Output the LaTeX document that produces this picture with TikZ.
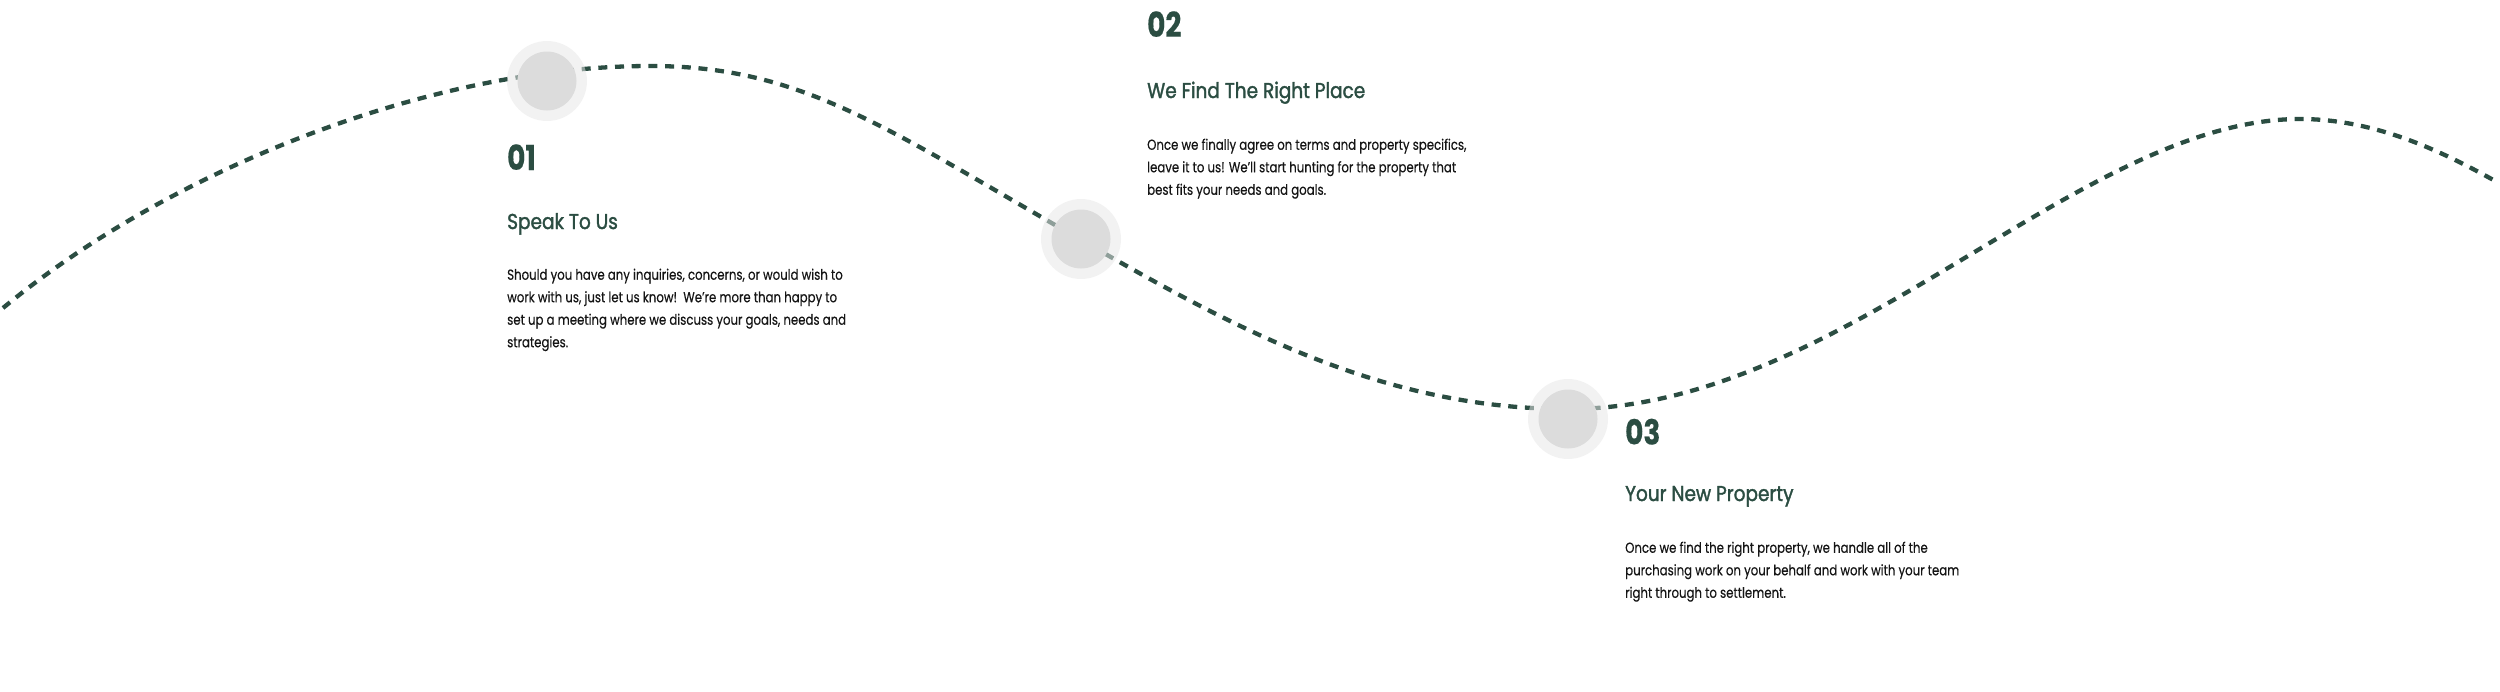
\documentclass[tikz,border=0pt]{standalone}
\usepackage{fontspec}
\setmainfont{Poppins}[FakeStretch=0.81, FakeBold=0.4]
\newfontfamily\titlefont{Poppins}[FakeStretch=0.86, FakeBold=1.6]
\usetikzlibrary{positioning}

\definecolor{pinegreen}{HTML}{2B4D42}
\definecolor{inktext}{HTML}{151515}
\definecolor{ringgray}{HTML}{E7E7E7}
\definecolor{hubgray}{HTML}{DCDCDC}

\begin{document}
\begin{tikzpicture}[x=1pt, y=-1pt,
        trail/.style={pinegreen, line width=4.3pt, dash pattern=on 9pt off 7.7pt},
        markring/.style={circle, fill=ringgray, fill opacity=0.53, minimum size=80pt, inner sep=0pt},
        markhub/.style={circle, fill=hubgray, minimum size=59pt, inner sep=0pt},
        stepnum/.style={anchor=base west, inner sep=0pt, text=pinegreen, font=\fontsize{34.5}{34}\selectfont\bfseries},
        steptitle/.style={anchor=base west, inner sep=0pt, text=pinegreen, font=\titlefont\fontsize{21.5}{24}\selectfont},
        steptext/.style={anchor=north west, inner sep=0pt, text=inktext, align=left, font=\fontsize{14.5}{22.5}\selectfont}
    ]
        \useasboundingbox (0,0) rectangle (2500,691);

        % Wave
        \draw[trail] (3,308) .. controls (170,170) and (430,66) .. (650,66)
            .. controls (800,66) and (881,125) .. (1081,240)
            .. controls (1231,326) and (1380,409) .. (1568,409)
            .. controls (1844,409) and (2079,119) .. (2300,119)
            .. controls (2380,119) and (2450,156) .. (2497,182);

        % Markers
        \node[markring] (ring1) at (547,81) {};
        \node[markhub] (hub1) at (ring1.center) {};
        \node[markring] (ring2) at (1081,239) {};
        \node[markhub] (hub2) at (ring2.center) {};
        \node[markring] (ring3) at (1568,419) {};
        \node[markhub] (hub3) at (ring3.center) {};

        % Step 1
        \node[stepnum] (num1) at (507,170) {01};
        \node[steptitle] (title1) at (507,229) {Speak To Us};
        \node[steptext] (text1) at (507,268.5) {Should you have any inquiries, concerns, or would wish to\\
            work with us, just let us know!\ \ We’re more than happy to\\
            set up a meeting where we discuss your goals, needs and\\
            strategies.};

        % Step 2
        \node[stepnum] (num2) at (1147,37) {02};
        \node[steptitle] (title2) at (1147,98) {We Find The Right Place};
        \node[steptext] (text2) at (1147,138.5) {Once we finally agree on terms and property specifics,\\
            leave it to us! We’ll start hunting for the property that\\
            best fits your needs and goals.};

        % Step 3
        \node[stepnum] (num3) at (1625,444.5) {03};
        \node[steptitle] (title3) at (1625,501) {Your New Property};
        \node[steptext] (text3) at (1625,541.5) {Once we find the right property, we handle all of the\\
            purchasing work on your behalf and work with your team\\
            right through to settlement.};

    \end{tikzpicture}
\end{document}
